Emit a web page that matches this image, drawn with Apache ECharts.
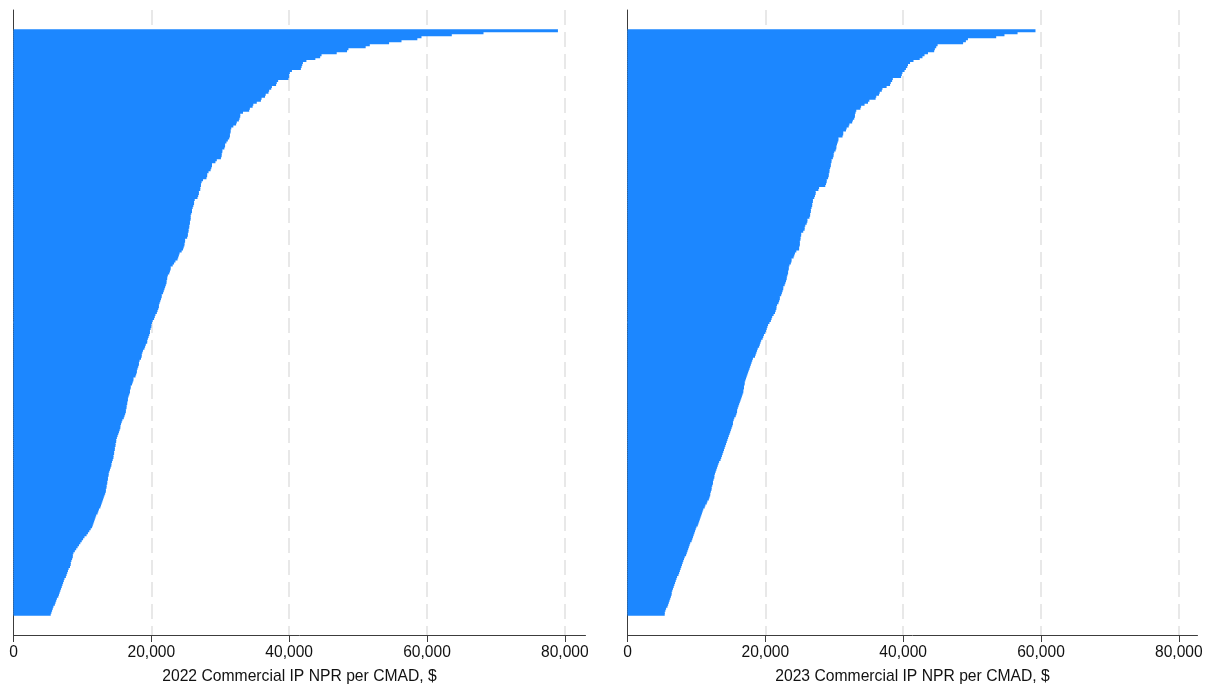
<!DOCTYPE html>
<html>
<head>
<meta charset="utf-8">
<script src="https://cdn.jsdelivr.net/npm/echarts@6/dist/echarts.min.js"></script>
<style>
html,body{margin:0;padding:0;background:#fff;}
#chart{width:1207px;height:690px;}
</style>
</head>
<body>
<div id="chart"></div>
<script>
// Sorted values per hospital (descending)
const npr2022 = [
79000,68200,63600,59200,58600,56300,54500,51700,51100,48600,
48400,46900,44700,44500,43800,42500,42000,41900,41800,41700,
40400,40100,40000,40000,39900,38400,38200,38100,37500,37400,
37100,37000,36600,36500,36000,35900,35300,34800,34700,34300,
34200,33300,32900,32900,32800,32700,32400,32300,31900,31600,
31500,31500,31400,31400,31300,31100,30900,30700,30700,30600,
30300,30300,30200,30200,30100,29500,29300,28800,28800,28700,
28600,28300,28100,28100,28000,27500,27300,27200,27200,27100,
27100,26900,26900,26800,26700,26300,26200,26200,26100,26000,
25900,25900,25800,25700,25700,25700,25600,25600,25500,25500,
25400,25400,25300,25300,25200,24900,24900,24800,24800,24700,
24600,24400,24100,24000,23900,23800,23500,23300,23100,22800,
22800,22700,22600,22400,22300,22300,22200,22200,22100,22000,
21900,21800,21700,21500,21500,21400,21300,21200,21100,21100,
21000,20900,20800,20600,20500,20400,20200,20100,20000,20000,
19900,19800,19800,19700,19600,19500,19400,19400,19200,19100,
19000,18800,18700,18600,18600,18500,18300,18200,18200,18100,
18000,17900,17900,17800,17700,17400,17400,17300,17200,17000,
17000,16900,16900,16800,16700,16600,16600,16500,16500,16400,
16400,16300,16300,16200,16100,16000,15800,15700,15600,15500,
15500,15400,15300,15200,15100,15000,14900,14900,14800,14800,
14700,14700,14600,14600,14500,14500,14400,14300,14200,14200,
14100,14000,13900,13800,13800,13700,13700,13600,13600,13500,
13500,13400,13400,13300,13200,13100,13000,12900,12800,12700,
12600,12400,12300,12200,12000,11900,11800,11700,11600,11500,
11400,11200,11000,10800,10600,10300,10100,9900,9700,9500,
9300,9100,8900,8700,8600,8600,8500,8400,8300,8300,
8200,8000,7900,7800,7700,7600,7400,7300,7200,7100,
7000,6900,6800,6700,6600,6500,6300,6200,6100,6000,
5800,5700,5600,5500,5400
];
const npr2023 = [
59200,56600,54700,53500,49400,49100,48700,45000,44800,44600,
44500,43600,43100,42800,42400,41500,41000,40700,40600,40400,
40200,39900,39800,39700,38500,38400,38200,38100,37600,37000,
36900,36600,36500,36100,36000,35100,34900,34400,33900,33800,
33200,33100,33000,33000,32900,32700,32600,32200,32100,31800,
31700,31300,31300,31200,30600,30600,30500,30400,30300,30300,
30200,30000,29900,29900,29800,29600,29600,29500,29500,29400,
29300,29300,29200,29200,29100,28900,28900,28800,28700,27800,
27700,27300,27300,27200,27100,26900,26900,26800,26800,26700,
26600,26600,26500,26500,26400,26100,26100,26000,25800,25700,
25700,25500,25200,25200,25100,25100,25000,25000,25000,24900,
24900,24500,24300,24200,24100,23800,23800,23700,23500,23400,
23400,23300,23300,23200,23100,23100,23000,22900,22800,22600,
22600,22500,22400,22300,22100,22100,22000,21900,21700,21600,
21600,21500,21400,21200,21000,20900,20800,20600,20400,20300,
20200,20100,20000,19800,19700,19600,19400,19300,19200,19100,
18900,18800,18700,18600,18500,18200,18100,18000,17900,17800,
17700,17600,17500,17400,17300,17200,17100,17000,17000,16900,
16900,16800,16800,16700,16600,16500,16400,16300,16200,16100,
16000,15900,15900,15800,15700,15500,15400,15300,15300,15200,
15100,15000,14900,14800,14700,14600,14500,14400,14300,14200,
14100,14000,13900,13800,13700,13600,13500,13300,13200,13100,
13000,12900,12800,12700,12600,12600,12500,12400,12400,12300,
12200,12200,12100,12000,12000,11900,11800,11600,11500,11300,
11200,11000,10900,10800,10700,10600,10500,10400,10300,10200,
10000,9900,9800,9700,9600,9500,9400,9300,9100,9000,
8900,8800,8700,8600,8500,8300,8200,8100,8000,7900,
7800,7700,7600,7500,7400,7200,7100,7000,6900,6800,
6700,6600,6500,6400,6400,6300,6200,6100,6000,5900,
5800,5600,5500,5400,5400
];
const axisTitles = ['2022 Commercial IP NPR per CMAD, $', '2023 Commercial IP NPR per CMAD, $'];
const xTicks = [0, 20000, 40000, 60000, 80000];

// layout constants
const PAD = 10; // empty category slots above and below the bars (outer gap)
const X_MAX = 83000;
const FONT = "'Liberation Sans', Arial, sans-serif";
const BAR_COLOR = '#1c87ff';
const AXIS_COLOR = '#3c3c3c';
const GRID_COLOR = '#e8e8e8';

function padded(values) {
  const blanks = n => new Array(n).fill(null);
  return blanks(PAD).concat(values, blanks(PAD));
}
function cats(values) {
  const out = [];
  for (let i = 0; i < values.length + 2 * PAD; i++) out.push('r' + i);
  return out;
}

const datasets = [npr2022, npr2023];
const plotHeight = 2 * (npr2022.length + 2 * PAD); // whole-pixel band per bar
const grids = [
  { left: 13.5, top: 10, width: 572, height: plotHeight },
  { left: 627.5, top: 10, width: 570, height: plotHeight }
];

const xAxes = datasets.map((d, k) => ({
  type: 'value', gridIndex: k, min: 0, max: k === 0 ? X_MAX : X_MAX * 570 / 572, interval: 20000,
  axisLine: { show: true, onZero: false, lineStyle: { color: AXIS_COLOR, width: 1 } },
  axisTick: { show: true, length: 7, customValues: xTicks, lineStyle: { color: AXIS_COLOR } },
  axisLabel: {
    show: true, customValues: xTicks, margin: 10, color: '#111', fontFamily: FONT, fontSize: 15.6,
    formatter: v => xTicks.indexOf(v) >= 0 ? v.toLocaleString('en-US') : ''
  },
  splitLine: {
    show: true,
    lineStyle: {
      color: ['rgba(0,0,0,0)', GRID_COLOR, GRID_COLOR, GRID_COLOR, GRID_COLOR, 'rgba(0,0,0,0)'],
      width: 2, type: [15, 7]
    }
  },
  name: axisTitles[k], nameLocation: 'middle', nameGap: 34,
  nameTextStyle: { color: '#111', fontFamily: FONT, fontSize: 15.7 }
}));

const yAxes = datasets.map((d, k) => ({
  type: 'category', gridIndex: k, inverse: true, data: cats(d),
  axisLine: { show: true, lineStyle: { color: AXIS_COLOR, width: 1 } },
  axisTick: { show: false }, axisLabel: { show: false }, splitLine: { show: false }
}));

const series = datasets.map((d, k) => ({
  type: 'bar', xAxisIndex: k, yAxisIndex: k, data: padded(d),
  barWidth: 3, // slightly wider than the 2px band so neighbouring bars merge without seams
  itemStyle: { color: BAR_COLOR },
  silent: true, animation: false
}));

const chart = echarts.init(document.getElementById('chart'), null, { renderer: 'canvas' });
chart.setOption({
  backgroundColor: '#ffffff',
  animation: false,
  grid: grids,
  xAxis: xAxes,
  yAxis: yAxes,
  series: series
});
</script>
</body>
</html>
